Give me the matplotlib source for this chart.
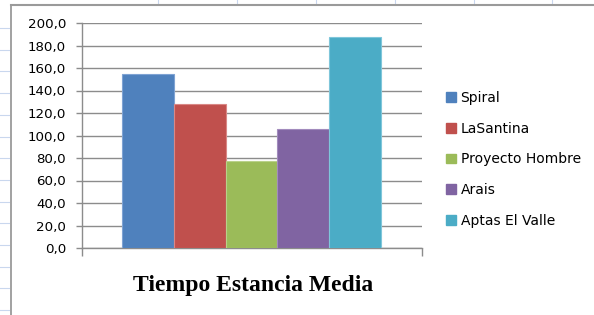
import matplotlib
matplotlib.use("Agg")
import matplotlib.pyplot as plt
from matplotlib.lines import Line2D
from matplotlib.patches import Patch

series = ["Spiral", "LaSantina", "Proyecto Hombre", "Arais", "Aptas El Valle"]
values = [155.0, 128.0, 77.0, 105.5, 188.0]
colors = ["#4F81BD", "#C0504D", "#9BBB59", "#8064A2", "#4BACC6"]
edges = ["#7FA3D3", "#D98886", "#B9D18A", "#A28BBD", "#7FC6DA"]
yticks = [0, 20, 40, 60, 80, 100, 120, 140, 160, 180, 200]
ytick_labels = ["0,0", "20,0", "40,0", "60,0", "80,0", "100,0", "120,0",
                "140,0", "160,0", "180,0", "200,0"]
title = "Tiempo Estancia Media"

W, H = 594, 315
fig = plt.figure(figsize=(W / 100, H / 100), dpi=100)
fig.patch.set_facecolor("white")

def fx(px):
    return px / W

def fy(py):
    return 1 - py / H

# spreadsheet background lines outside the chart
for y in [28, 50, 71, 93, 115, 137, 158, 180, 202, 223, 245, 267, 288, 310]:
    fig.add_artist(Line2D([0, fx(9)], [fy(y), fy(y)], color="#C9D7EE", lw=0.8))
for x in [158, 237, 316, 395, 474, 552]:
    fig.add_artist(Line2D([fx(x), fx(x)], [fy(0), fy(4)], color="#C9D7EE", lw=0.8))
# chart frame
fig.add_artist(Line2D([fx(10.5), fx(10.5)], [fy(5), 0], color="#9A9A9A", lw=1.3))
fig.add_artist(Line2D([fx(10.5), 1.01], [fy(5), fy(5)], color="#9A9A9A", lw=1.5))

ax = fig.add_axes([fx(82), fy(248), fx(422) - fx(82), fy(23) - fy(248)])
x = list(range(len(series)))
for i in x:
    ax.bar(i, values[i], width=1.0, color=colors[i], edgecolor=edges[i],
           linewidth=0.8, label=series[i], zorder=3)

x0, x1 = -1.272, 5.29
ax.set_xlim(x0, x1)
ax.set_ylim(0, 200)
ax.set_yticks(yticks)
ax.set_yticklabels(ytick_labels, fontsize=9.6, color="#000000")
ax.set_xticks([x0, x1])
ax.set_xticklabels(["", ""])
ax.tick_params(axis="y", length=4, width=1, color="#8C8C8C", pad=7.5)
ax.tick_params(axis="x", length=6, width=1, color="#8C8C8C")
ax.grid(axis="y", color="#8C8C8C", lw=1, zorder=0)
for s in ["top", "right"]:
    ax.spines[s].set_visible(False)
for s in ["left", "bottom"]:
    ax.spines[s].set_color("#8C8C8C")
    ax.spines[s].set_linewidth(1)
ax.set_axisbelow(True)

fig.text(fx(253), fy(285), title, ha="center", va="center",
         family="Liberation Serif", fontweight="bold", fontsize=17)

handles = [Patch(facecolor=c, edgecolor=c) for c in colors]
fig.legend(handles, series, loc="upper left", bbox_to_anchor=(fx(446), fy(91)),
           frameon=False, fontsize=10, handlelength=0.7, handleheight=0.7,
           handletextpad=0.35, labelspacing=1.2, borderpad=0, borderaxespad=0)

fig.savefig("out.png", dpi=100, facecolor="white")
